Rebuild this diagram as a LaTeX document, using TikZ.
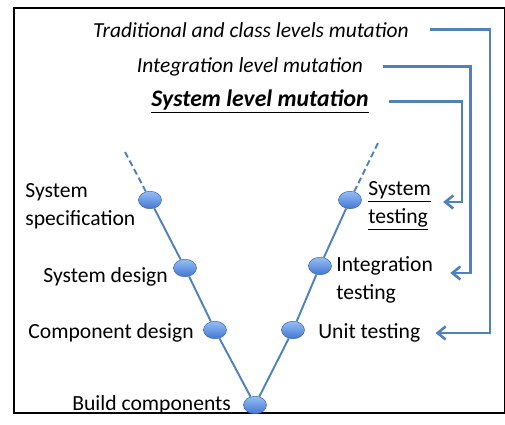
\documentclass[tikz,border=0pt]{standalone}
\usepackage{fontspec}
\setmainfont{Carlito}
\usetikzlibrary{shapes.geometric,arrows.meta}

\definecolor{vblue}{RGB}{79,129,189}
\definecolor{dotlight}{RGB}{150,190,245}
\definecolor{dotdark}{RGB}{68,118,210}

\begin{document}
\begin{tikzpicture}[x=0.02cm,y=-0.02cm,
  lbl/.style={font=\fontsize{12.3}{15.9}\selectfont, inner sep=0pt, align=left},
  mut/.style={font=\fontsize{12.2}{15}\selectfont\itshape, inner sep=0pt},
  dot/.style={ellipse, draw=vblue!85!black, line width=0.3pt, top color=dotlight,
    bottom color=dotdark, minimum width=0.46cm, minimum height=0.35cm, inner sep=0pt},
  vline/.style={draw=vblue, line width=1.1pt},
  mutlink/.style={draw=vblue, line width=1.5pt, -{Straight Barb[length=1.6mm,width=2.6mm]}}]

\useasboundingbox (0,0) rectangle (505,424);
\draw[line width=1.3pt] (14,8) rectangle (505.5,413);

%% mutation levels
\node[mut, anchor=base] (trad) at (251,37) {Traditional and class levels mutation};
\node[mut, anchor=base] (integ) at (250,72) {Integration level mutation};
\node[mut, anchor=base, font=\fontsize{13.5}{15}\selectfont\bfseries\itshape] (sys) at (260,106) {\underline{System level mutation}};

%% development side
\node[lbl, anchor=west] (spec) at (25,206) {System\\specification};
\node[lbl, anchor=west] (sdes) at (43,277) {System design};
\node[lbl, anchor=west] (cdes) at (28,333) {Component design};
\node[lbl, anchor=west] (build) at (72,405) {Build components};

%% testing side
\node[lbl, anchor=west] (stest) at (368,206) {\underline{System}\\\underline{testing}};
\node[lbl, anchor=west] (itest) at (336,280) {Integration\\testing};
\node[lbl, anchor=west] (utest) at (318,333) {Unit testing};

%% vertices
\node[dot] (ss) at (150,200) {};
\node[dot] (sd) at (185,268) {};
\node[dot] (cd) at (215,330) {};
\node[dot] (bc) at (255,405) {};
\node[dot] (ut) at (293,330) {};
\node[dot] (it) at (320,266) {};
\node[dot] (st) at (350,200) {};
\coordinate (ltop) at (125,152);
\coordinate (ldash) at (143,186);
\coordinate (rtop) at (378,143);
\coordinate (rdash) at (357,186);

%%% edges
\draw[vline, dash pattern=on 3.5pt off 2pt] (ltop) -- (ldash);
\draw[vline, dash pattern=on 3.5pt off 2pt] (rtop) -- (rdash);
\draw[vline] (ldash) -- (ss) -- (sd) -- (cd) -- (bc) -- (ut) -- (it) -- (st) -- (rdash);

%%% mutation links
\draw[mutlink, shorten <=0.42cm] (trad.east) -- ++(81,0) |- ([xshift=0.3cm]utest.east);
\draw[mutlink, shorten <=0.4cm] (integ.east) -- ++(107,0) |- ([xshift=0.34cm,yshift=0.14cm]itest.east);
\draw[mutlink, shorten <=0.4cm] (sys.east) -- ++(93,0) |- ([xshift=0.24cm,yshift=0.08cm]stest.east);

\end{tikzpicture}
\end{document}
